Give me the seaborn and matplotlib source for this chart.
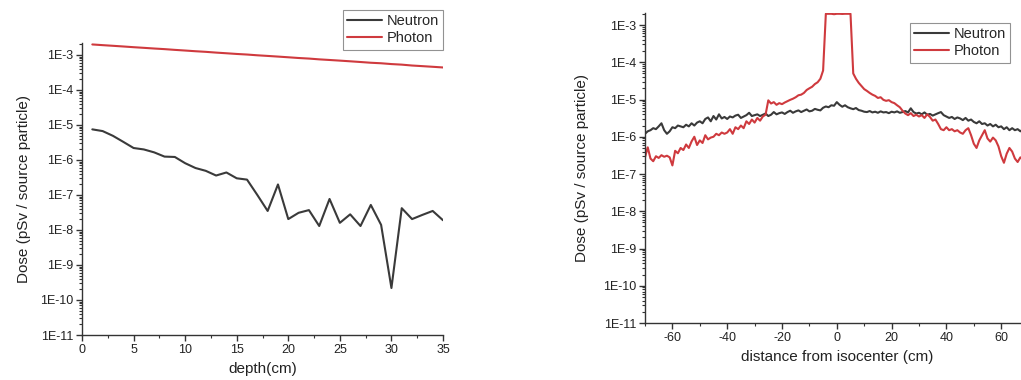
import numpy as np
import pandas as pd
import matplotlib
matplotlib.use("Agg")
import matplotlib.pyplot as plt
import matplotlib.ticker as mticker
from matplotlib.lines import Line2D
import seaborn as sns

# ---------------- data: depth profile ----------------
depth_cm = list(range(1, 36))
depth_photon = [2.0e-3, 1.91e-3, 1.83e-3, 1.75e-3, 1.67e-3, 1.6e-3, 1.53e-3, 1.47e-3, 1.4e-3,
                1.34e-3, 1.28e-3, 1.23e-3, 1.17e-3, 1.12e-3, 1.07e-3, 1.03e-3, 9.8e-4, 9.4e-4,
                9.0e-4, 8.6e-4, 8.2e-4, 7.9e-4, 7.5e-4, 7.2e-4, 6.9e-4, 6.6e-4, 6.3e-4, 6.0e-4,
                5.8e-4, 5.5e-4, 5.3e-4, 5.0e-4, 4.8e-4, 4.6e-4, 4.4e-4]
depth_neutron = [7.5e-6, 6.7e-6, 4.9e-6, 3.3e-6, 2.2e-6, 2.0e-6, 1.65e-6, 1.25e-6, 1.22e-6,
                 8.1e-7, 5.9e-7, 4.9e-7, 3.6e-7, 4.4e-7, 3.0e-7, 2.75e-7, 1.0e-7, 3.5e-8,
                 2.0e-7, 2.05e-8, 3.1e-8, 3.7e-8, 1.3e-8, 7.7e-8, 1.6e-8, 2.8e-8, 1.3e-8,
                 5.2e-8, 1.4e-8, 2.2e-10, 4.2e-8, 2.05e-8, 2.7e-8, 3.5e-8, 1.9e-8]

# ---------------- data: lateral profile ----------------
lateral_cm = list(range(-70, 71))
lateral_neutron = [
    1.2e-6, 1.4e-6, 1.5e-6, 1.7e-6, 1.6e-6, 1.9e-6, 2.3e-6, 1.5e-6, 1.2e-6, 1.4e-6,   # -70..-61
    1.8e-6, 1.7e-6, 2.0e-6, 1.9e-6, 1.8e-6, 2.1e-6, 1.9e-6, 2.3e-6, 2.0e-6, 2.4e-6,   # -60..-51
    2.6e-6, 2.3e-6, 3.0e-6, 3.3e-6, 2.6e-6, 3.6e-6, 2.9e-6, 4.0e-6, 3.1e-6, 3.4e-6,   # -50..-41
    3.0e-6, 3.5e-6, 3.3e-6, 3.7e-6, 3.9e-6, 3.2e-6, 3.5e-6, 3.8e-6, 4.4e-6, 3.6e-6,   # -40..-31
    3.8e-6, 4.0e-6, 3.6e-6, 3.9e-6, 4.2e-6, 3.6e-6, 3.9e-6, 4.6e-6, 4.0e-6, 4.3e-6,   # -30..-21
    4.5e-6, 4.1e-6, 4.6e-6, 5.0e-6, 4.4e-6, 4.8e-6, 5.1e-6, 4.6e-6, 5.0e-6, 5.4e-6,   # -20..-11
    4.8e-6, 5.0e-6, 5.6e-6, 5.3e-6, 5.1e-6, 6.0e-6, 6.5e-6, 6.2e-6, 7.0e-6, 6.8e-6,   # -10..-1
    8.5e-6,                                                                           # 0
    7.2e-6, 6.4e-6, 7.0e-6, 6.2e-6, 5.8e-6, 5.5e-6, 5.9e-6, 5.2e-6, 5.0e-6, 4.7e-6,   # 1..10
    4.6e-6, 4.9e-6, 4.5e-6, 4.7e-6, 4.4e-6, 4.8e-6, 4.5e-6, 4.6e-6, 4.3e-6, 4.7e-6,   # 11..20
    4.5e-6, 4.8e-6, 4.4e-6, 4.6e-6, 4.9e-6, 4.5e-6, 5.8e-6, 4.6e-6, 4.2e-6, 4.4e-6,   # 21..30
    4.0e-6, 4.5e-6, 3.9e-6, 4.1e-6, 3.7e-6, 4.0e-6, 4.3e-6, 4.6e-6, 3.8e-6, 3.5e-6,   # 31..40
    3.2e-6, 3.4e-6, 3.0e-6, 3.3e-6, 3.1e-6, 2.8e-6, 3.2e-6, 2.7e-6, 2.9e-6, 2.5e-6,   # 41..50
    2.3e-6, 2.6e-6, 2.2e-6, 2.3e-6, 2.0e-6, 2.2e-6, 1.9e-6, 2.1e-6, 1.8e-6, 1.9e-6,   # 51..60
    1.6e-6, 1.8e-6, 1.5e-6, 1.7e-6, 1.5e-6, 1.6e-6, 1.4e-6, 1.6e-6, 1.5e-6, 1.4e-6,   # 61..70
]
lateral_photon = [
    2.8e-7, 5.2e-7, 2.6e-7, 2.2e-7, 3.0e-7, 2.7e-7, 3.2e-7, 2.9e-7, 3.1e-7, 2.8e-7,   # -70..-61
    1.7e-7, 4.2e-7, 3.6e-7, 5.0e-7, 4.4e-7, 6.2e-7, 5.0e-7, 7.5e-7, 1.0e-6, 6.0e-7,   # -60..-51
    8.0e-7, 6.8e-7, 1.1e-6, 8.5e-7, 9.5e-7, 1.0e-6, 1.2e-6, 1.1e-6, 1.3e-6, 1.2e-6,   # -50..-41
    1.3e-6, 1.6e-6, 1.2e-6, 1.8e-6, 1.6e-6, 2.0e-6, 1.7e-6, 2.6e-6, 2.2e-6, 2.9e-6,   # -40..-31
    2.4e-6, 3.2e-6, 2.7e-6, 3.5e-6, 3.9e-6, 9.5e-6, 7.8e-6, 8.5e-6, 7.2e-6, 8.0e-6,   # -30..-21
    7.5e-6, 8.3e-6, 9.0e-6, 9.8e-6, 1.05e-5, 1.15e-5, 1.3e-5, 1.35e-5, 1.5e-5, 1.8e-5, # -20..-11
    2.0e-5, 2.2e-5, 2.6e-5, 2.9e-5, 3.6e-5, 6.0e-5, 2.0e-3, 2.0e-3, 2.0e-3, 1.95e-3,  # -10..-1
    2.0e-3,                                                                           # 0
    2.0e-3, 1.98e-3, 2.0e-3, 2.0e-3, 2.0e-3, 5.0e-5, 3.6e-5, 2.8e-5, 2.3e-5, 1.9e-5,  # 1..10
    1.7e-5, 1.5e-5, 1.35e-5, 1.25e-5, 1.1e-5, 1.15e-5, 9.8e-6, 9.2e-6, 9.6e-6, 8.5e-6, # 11..20
    8.0e-6, 7.0e-6, 6.2e-6, 5.0e-6, 4.2e-6, 3.8e-6, 4.3e-6, 3.6e-6, 3.9e-6, 3.5e-6,   # 21..30
    3.8e-6, 3.2e-6, 4.0e-6, 3.4e-6, 2.7e-6, 2.9e-6, 2.2e-6, 1.6e-6, 1.5e-6, 1.8e-6,   # 31..40
    1.5e-6, 1.6e-6, 1.4e-6, 1.5e-6, 1.3e-6, 1.2e-6, 1.5e-6, 1.7e-6, 1.1e-6, 6.5e-7,   # 41..50
    5.0e-7, 8.0e-7, 1.1e-6, 1.5e-6, 9.0e-7, 7.4e-7, 9.5e-7, 8.0e-7, 5.5e-7, 3.0e-7,   # 51..60
    2.0e-7, 3.5e-7, 5.0e-7, 4.0e-7, 2.6e-7, 2.1e-7, 2.8e-7, 2.4e-7, 3.0e-7, 2.5e-7,   # 61..70
]

series_names = ["Neutron", "Photon"]
y_tick_values = [1e-11, 1e-10, 1e-9, 1e-8, 1e-7, 1e-6, 1e-5, 1e-4, 1e-3]
y_tick_labels = ["1E-11", "1E-10", "1E-9", "1E-8", "1E-7", "1E-6", "1E-5", "1E-4", "1E-3"]
depth_ticks = [0, 5, 10, 15, 20, 25, 30, 35]
lateral_ticks = [-60, -40, -20, 0, 20, 40, 60]

# ---------------- styling ----------------
sns.set_style("ticks")
plt.rcParams["font.family"] = ["Liberation Sans", "DejaVu Sans"]
plt.rcParams["axes.unicode_minus"] = False
palette = {"Neutron": "#3a3a3a", "Photon": "#cf3a3e"}
axis_color = "#333333"

df_depth = pd.DataFrame({
    "x": depth_cm * 2,
    "dose": depth_neutron + depth_photon,
    "series": [series_names[0]] * len(depth_cm) + [series_names[1]] * len(depth_cm),
})
df_lat = pd.DataFrame({
    "x": lateral_cm * 2,
    "dose": lateral_neutron + lateral_photon,
    "series": [series_names[0]] * len(lateral_cm) + [series_names[1]] * len(lateral_cm),
})

W, H = 1021, 380
fig = plt.figure(figsize=(W / 100, H / 100), dpi=100)
ax1 = fig.add_axes([82 / W, 45 / H, 361 / W, 292 / H])
ax2 = fig.add_axes([645 / W, 57 / H, 383.6 / W, 310 / H])


def style_axis(ax, ytop, xlim, xticks, xminor, xlabel, ylabelpad):
    ax.set_yscale("log")
    ax.set_ylim(1e-11, ytop)
    ax.set_xlim(*xlim)
    ax.yaxis.set_major_locator(mticker.FixedLocator(y_tick_values))
    ax.yaxis.set_major_formatter(mticker.FixedFormatter(y_tick_labels))
    ax.yaxis.set_minor_locator(mticker.LogLocator(base=10, subs=np.arange(2, 10), numticks=30))
    ax.yaxis.set_minor_formatter(mticker.NullFormatter())
    ax.xaxis.set_major_locator(mticker.FixedLocator(xticks))
    ax.xaxis.set_minor_locator(mticker.MultipleLocator(xminor))
    for s in ["top", "right"]:
        ax.spines[s].set_visible(False)
    for s in ["left", "bottom"]:
        ax.spines[s].set_color(axis_color)
        ax.spines[s].set_linewidth(1.0)
    ax.tick_params(which="major", direction="out", length=4.5, width=1.0, color=axis_color,
                   labelsize=9, labelcolor="#222222", pad=2)
    ax.tick_params(which="minor", direction="out", length=2.2, width=0.8, color=axis_color)
    ax.set_xlabel(xlabel, fontsize=11, color="#222222", labelpad=4)
    ax.set_ylabel("Dose (pSv / source particle)", fontsize=11, color="#222222",
                  labelpad=ylabelpad)


sns.lineplot(data=df_depth, x="x", y="dose", hue="series", palette=palette,
             linewidth=1.5, ax=ax1, legend=False)
sns.lineplot(data=df_lat, x="x", y="dose", hue="series", palette=palette,
             linewidth=1.5, ax=ax2, legend=False)

style_axis(ax1, 2.2e-3, (0, 35), depth_ticks, 2.5, "depth(cm)", 6)
style_axis(ax2, 2.1e-3, (-70, 70), lateral_ticks, 10, "distance from isocenter (cm)", 10)

handles = [Line2D([0], [0], color=palette[n], lw=1.5) for n in series_names]

leg1 = fig.legend(handles, series_names, loc="upper right",
                  bbox_to_anchor=(443 / W, 1 - 10 / H), borderaxespad=0,
                  fontsize=10.5, frameon=True, fancybox=False, handlelength=2.4,
                  handletextpad=0.3, borderpad=0.3, labelspacing=0.2)
leg1.get_frame().set_edgecolor("#777777")
leg1.get_frame().set_linewidth(0.8)

leg2 = fig.legend(handles, series_names, loc="upper left",
                  bbox_to_anchor=(910 / W, 1 - 23 / H), borderaxespad=0,
                  fontsize=10.5, frameon=True, fancybox=False, handlelength=2.4,
                  handletextpad=0.3, borderpad=0.3, labelspacing=0.2)
leg2.get_frame().set_edgecolor("#777777")
leg2.get_frame().set_linewidth(0.8)

fig.savefig("out.png", dpi=100, facecolor="white")
